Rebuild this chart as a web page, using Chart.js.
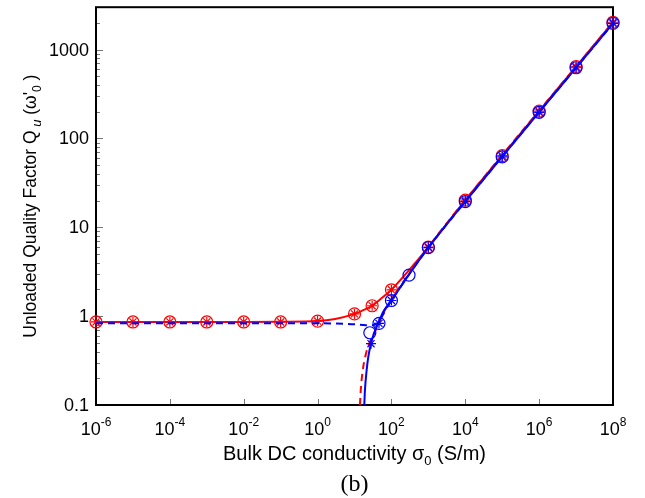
<!DOCTYPE html>
<html>
<head>
<meta charset="utf-8">
<script src="https://cdn.jsdelivr.net/npm/chart.js@4.4.1/dist/chart.umd.min.js"></script>
<style>
  html, body { margin: 0; padding: 0; background: #fff; }
  #wrap { width: 645px; height: 498px; }
</style>
</head>
<body>
<div id="wrap"><canvas id="qChart" width="645" height="498"></canvas></div>
<script>
// tick labels
const xTickExps = [-6, -4, -2, 0, 2, 4, 6, 8];
const yTickVals = [0.1, 1, 10, 100, 1000];
const yTickLabels = ["0.1", "1", "10", "100", "1000"];

// red solid curve
const redSolidX = [1e-6, 1e-4, 1e-2, 1e-1, 1, 3, 10, 20, 30, 50, 100, 300, 1e3, 1e4, 1e5, 1e6, 1e7, 1e8];
const redSolidQ = [0.86, 0.86, 0.86, 0.865, 0.88, 0.93, 1.06, 1.2, 1.31, 1.55, 1.98, 3.3, 6.0, 20.2, 64, 203, 645, 2030];

// red dashed curve
const redDashX = [14, 15, 17.3, 20.5, 26, 36, 47, 67, 100, 300, 1e3, 1e4, 1e8];
const redDashQ = [0.1, 0.16, 0.27, 0.38, 0.51, 0.67, 0.86, 1.17, 1.55, 3.0, 6.0, 20.2, 2030];

// blue solid curve
const blueSolidX = [18.4, 19.2, 21.4, 23.7, 27.9, 33.7, 44, 60, 100, 300, 1e3, 1e4, 1e8];
const blueSolidQ = [0.1, 0.148, 0.25, 0.35, 0.49, 0.64, 0.83, 1.12, 1.5, 2.95, 5.9, 19.5, 1975];

// blue dashed curve
const blueDashX = [1e-6, 1e-2, 1, 5, 10, 20, 30, 40, 50, 70, 100, 300, 1e3, 1e4, 1e8];
const blueDashQ = [0.83, 0.83, 0.83, 0.82, 0.81, 0.79, 0.79, 0.82, 0.92, 1.18, 1.5, 2.95, 5.9, 19.5, 1975];

// markers
const redMarkX = [1e-6, 1e-5, 1e-4, 1e-3, 1e-2, 1e-1, 1, 10, 30, 100, 1e3, 1e4, 1e5, 1e6, 1e7, 1e8];
const redMarkQ = [0.86, 0.86, 0.86, 0.86, 0.86, 0.86, 0.88, 1.06, 1.31, 1.98, 6.0, 20.2, 64, 203, 645, 2030];
const blueCircX = [26, 46, 100, 300, 1e3, 1e4, 1e5, 1e6, 1e7, 1e8];
const blueCircQ = [0.65, 0.83, 1.5, 2.9, 5.9, 19.5, 62, 197, 625, 1975];
const blueStarX = [28, 46, 100, 1e3, 1e4, 1e5, 1e6, 1e7, 1e8];
const blueStarQ = [0.49, 0.83, 1.5, 5.9, 19.5, 62, 197, 625, 1975];

const pts = (xs, ys) => xs.map((v, i) => ({ x: v, y: ys[i] }));

const SANS = '"Liberation Sans", Arial, sans-serif';

function lineSet(xs, ys, color, dash) {
  return {
    data: pts(xs, ys),
    showLine: true,
    borderColor: color,
    borderWidth: 2,
    borderDash: dash,
    pointRadius: 0,
    cubicInterpolationMode: "monotone",
    clip: false,
  };
}

function markSet(xs, ys, color, style, r) {
  return {
    data: pts(xs, ys),
    showLine: false,
    pointStyle: style,
    pointRadius: r,
    pointBorderWidth: 1.2,
    pointBorderColor: color,
    pointBackgroundColor: "rgba(0,0,0,0)",
    clip: false,
  };
}

// draw a row of text pieces (with sub/superscripts) centred on cx
function drawRuns(ctx, runs, cx, cy) {
  let w = 0;
  runs.forEach(r => { ctx.font = r.font; w += ctx.measureText(r.t).width; });
  let x = cx - w / 2;
  runs.forEach(r => {
    ctx.font = r.font;
    ctx.fillText(r.t, x, cy + (r.dy || 0));
    x += ctx.measureText(r.t).width;
  });
}

const frameAndText = {
  id: "frameAndText",
  beforeDatasetsDraw(chart) {
    const { ctx, chartArea: a, scales: { x, y } } = chart;
    ctx.save();
    // inward ticks
    ctx.strokeStyle = "#777";
    ctx.lineWidth = 1;
    ctx.beginPath();
    for (let e = -1; e <= 3; e++) {
      for (let m = 1; m <= 9; m++) {
        const v = m * Math.pow(10, e);
        if (v > y.max) break;
        const py = Math.round(y.getPixelForValue(v)) + 0.5;
        const len = m === 1 ? 7 : 4;
        ctx.moveTo(a.left, py);
        ctx.lineTo(a.left + len, py);
      }
    }
    xTickExps.forEach(e => {
      const px = Math.round(x.getPixelForValue(Math.pow(10, e))) + 0.5;
      ctx.moveTo(px, a.bottom);
      ctx.lineTo(px, a.bottom - 6);
    });
    ctx.stroke();
    // frame
    ctx.strokeStyle = "#000";
    ctx.lineWidth = 2;
    ctx.strokeRect(a.left, a.top, a.right - a.left, a.bottom - a.top);
    ctx.restore();
  },
  afterDraw(chart) {
    const { ctx, chartArea: a, scales: { x, y } } = chart;
    ctx.save();
    ctx.fillStyle = "#000";
    ctx.textBaseline = "alphabetic";
    // x tick labels: 10^e
    xTickExps.forEach(e => {
      const px = x.getPixelForValue(Math.pow(10, e));
      drawRuns(ctx, [
        { t: "10", font: "18px " + SANS },
        { t: e < 0 ? "-" + (-e) : String(e), font: "12px " + SANS, dy: -9 },
      ], px, a.bottom + 30);
    });
    // y tick labels
    ctx.textAlign = "right";
    ctx.textBaseline = "middle";
    ctx.font = "18px " + SANS;
    yTickVals.forEach((v, i) => {
      ctx.fillText(yTickLabels[i], a.left - 7, y.getPixelForValue(v) + 1);
    });
    ctx.textAlign = "left";
    ctx.textBaseline = "alphabetic";
    // x title
    drawRuns(ctx, [
      { t: "Bulk DC conductivity \u03c3", font: "20px " + SANS },
      { t: "0", font: "13px " + SANS, dy: 5 },
      { t: " (S/m)", font: "20px " + SANS },
    ], (a.left + a.right) / 2, 460);
    // panel label
    ctx.font = '24px "Liberation Serif", "Times New Roman", serif';
    ctx.textAlign = "center";
    ctx.fillText("(b)", (a.left + a.right) / 2, 491);
    ctx.textAlign = "left";
    // y title (rotated)
    ctx.translate(36, (a.top + a.bottom) / 2);
    ctx.rotate(-Math.PI / 2);
    drawRuns(ctx, [
      { t: "Unloaded Quality Factor Q", font: "17.5px " + SANS },
      { t: " u", font: "italic 13px " + SANS, dy: 5 },
      { t: " (\u03c9'", font: "17.5px " + SANS },
      { t: "0", font: "12px " + SANS, dy: 5 },
      { t: " )", font: "17.5px " + SANS },
    ], 0, 0);
    ctx.restore();
  },
};

new Chart(document.getElementById("qChart").getContext("2d"), {
  type: "scatter",
  data: {
    datasets: [
      markSet(blueStarX, blueStarQ, "#0000ff", "star", 5),
      markSet(blueCircX, blueCircQ, "#0000ff", "circle", 6),
      lineSet(blueSolidX, blueSolidQ, "#0000ff", []),
      lineSet(blueDashX, blueDashQ, "#0000ff", [7, 5]),
      markSet(redMarkX, redMarkQ, "#ff0000", "star", 5),
      markSet(redMarkX, redMarkQ, "#ff0000", "circle", 6),
      lineSet(redDashX, redDashQ, "#ff0000", [7, 5]),
      lineSet(redSolidX, redSolidQ, "#ff0000", []),
    ],
  },
  options: {
    responsive: false,
    animation: false,
    layout: { padding: { left: 96, right: 32, top: 6, bottom: 93 } },
    plugins: { legend: { display: false }, tooltip: { enabled: false } },
    scales: {
      x: { type: "logarithmic", min: 1e-6, max: 1e8, display: false },
      y: { type: "logarithmic", min: 0.1, max: 3000, display: false },
    },
  },
  plugins: [frameAndText],
});
</script>
</body>
</html>
